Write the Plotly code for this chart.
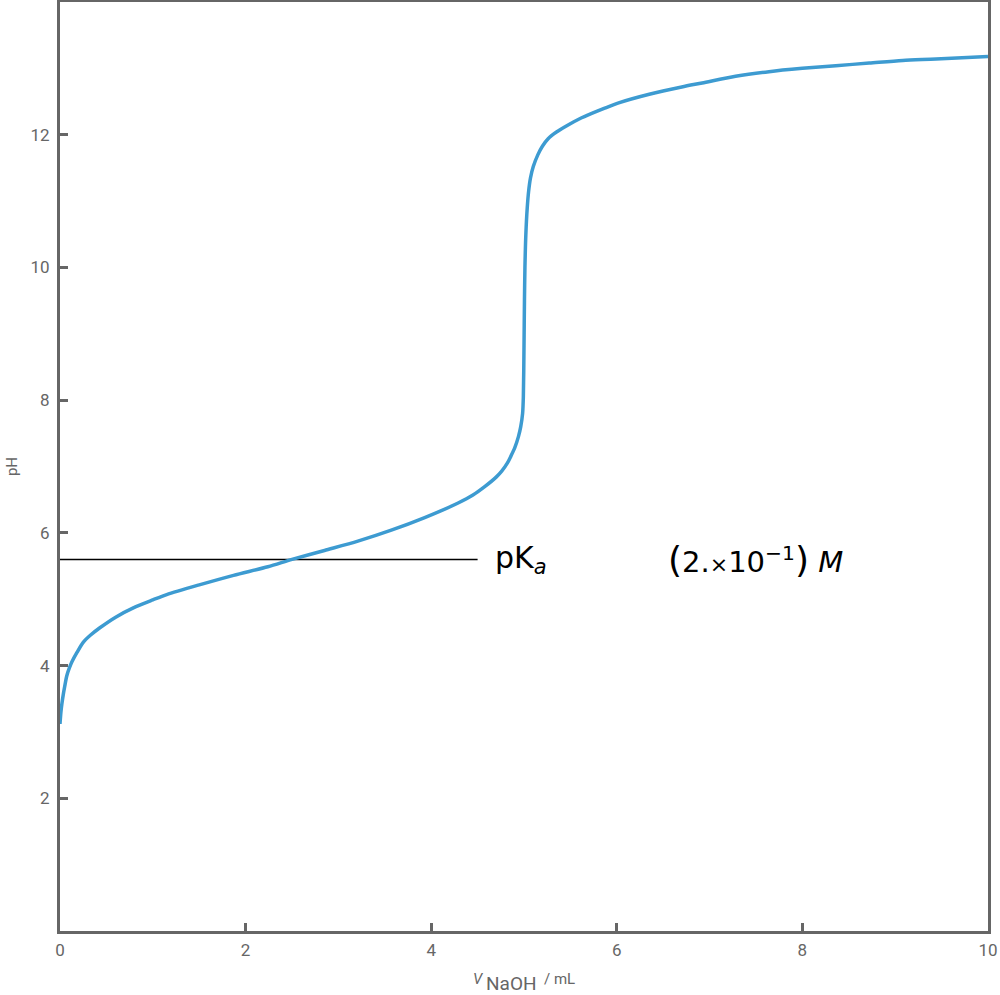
import plotly.graph_objects as go

# Titration curve
v_naoh = [0.0, 0.01, 0.02, 0.036, 0.05, 0.072, 0.10, 0.13, 0.18, 0.25, 0.33, 0.43, 0.60,
          0.79, 1.00, 1.15, 1.51, 1.87, 2.24, 2.50, 2.85, 3.21, 3.57, 3.93, 4.29, 4.45,
          4.58, 4.70, 4.76, 4.82, 4.86, 4.90, 4.94, 4.965, 4.985, 4.993, 5.0, 5.005,
          5.01, 5.02, 5.035, 5.05, 5.07, 5.10, 5.15, 5.20, 5.26, 5.35, 5.48, 5.60, 5.73,
          5.87, 6.02, 6.35, 6.70, 6.92, 7.28, 7.64, 8.0, 8.36, 8.72, 9.08, 9.44, 10.0]
ph = [3.12, 3.30, 3.42, 3.57, 3.68, 3.84, 3.96, 4.06, 4.19, 4.35, 4.46, 4.57, 4.73,
      4.87, 4.99, 5.07, 5.22, 5.36, 5.49, 5.60, 5.735, 5.875, 6.04, 6.23, 6.45, 6.57,
      6.70, 6.84, 6.93, 7.05, 7.16, 7.28, 7.45, 7.60, 7.80, 8.05, 8.80, 9.50,
      10.0, 10.5, 10.9, 11.15, 11.35, 11.52, 11.70, 11.83, 11.94, 12.04, 12.15, 12.24,
      12.32, 12.40, 12.48, 12.61, 12.72, 12.78, 12.88, 12.95, 13.00, 13.04, 13.08,
      13.12, 13.14, 13.18]

pka_value = 5.6
pka_line_x = [0.0, 4.5]
x_ticks = [0, 2, 4, 6, 8, 10]
y_ticks = [2, 4, 6, 8, 10, 12]

GREY = "#666666"

fig = go.Figure()
fig.add_trace(go.Scatter(x=pka_line_x, y=[pka_value, pka_value], mode="lines",
                         line=dict(color="black", width=1.5), hoverinfo="skip"))
fig.add_trace(go.Scatter(x=v_naoh, y=ph, mode="lines",
                         line=dict(color="#3d9bd1", width=3.5, shape="spline", smoothing=0.8)))

fig.add_annotation(x=4.67, y=pka_value, xref="x", yref="y",
                   text="pK<sub><i>a</i></sub>",
                   showarrow=False, xanchor="left", yanchor="middle",
                   font=dict(family="DejaVu Sans", size=30, color="black"))
fig.add_annotation(x=7.49, y=pka_value, xref="x", yref="y",
                   text="<span style='font-size:36px'>(</span>2.<span style='font-size:22px'>×</span>10<sup>−1</sup><span style='font-size:36px'>)</span> <i>M</i>",
                   showarrow=False, xanchor="center", yanchor="middle",
                   font=dict(family="DejaVu Sans", size=29, color="black"))

# x-axis title pieces: V (italic), subscript NaOH, "/ mL"
fig.add_annotation(x=0.458, y=-0.0515, xref="paper", yref="paper", text="<i>V</i>",
                   showarrow=False, xanchor="right", yanchor="middle", borderpad=0,
                   font=dict(family="Roboto", size=15, color=GREY))
fig.add_annotation(x=0.458, y=-0.0570, xref="paper", yref="paper", text="NaOH",
                   showarrow=False, xanchor="left", yanchor="middle", borderpad=0,
                   font=dict(family="Roboto", size=19, color=GREY))
fig.add_annotation(x=0.5205, y=-0.0515, xref="paper", yref="paper", text="/ mL",
                   showarrow=False, xanchor="left", yanchor="middle", borderpad=0,
                   font=dict(family="Roboto", size=15, color=GREY))

axis_common = dict(showline=True, mirror=True, linecolor=GREY, linewidth=3,
                   ticks="inside", ticklen=8, tickwidth=3, tickcolor=GREY,
                   showgrid=False, zeroline=False,
                   tickfont=dict(family="Roboto", size=17, color=GREY))

fig.update_xaxes(range=[0, 10], tickvals=x_ticks, ticklabelstandoff=2, **axis_common)
fig.update_yaxes(range=[0, 14], tickvals=y_ticks, ticklabelstandoff=4, **axis_common,
                 title=dict(text="pH", standoff=10,
                            font=dict(family="Roboto", size=15, color=GREY)))

fig.update_layout(width=1000, height=995, showlegend=False,
                  paper_bgcolor="white", plot_bgcolor="white",
                  margin=dict(l=60, r=12, t=2, b=64, autoexpand=False))

fig.write_html("out.html", config={"displayModeBar": False},
               post_script="document.body.style.margin='0';document.body.style.overflow='hidden';")
